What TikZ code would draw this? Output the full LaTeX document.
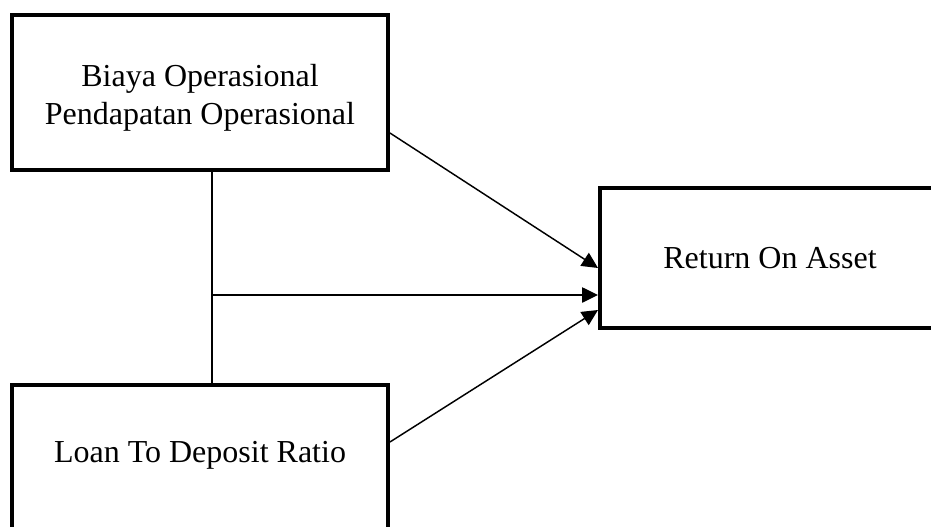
\documentclass[tikz,border=0pt]{standalone}
\usepackage{fontspec}
\setmainfont{Liberation Serif}
\usetikzlibrary{arrows.meta}
\tikzset{
  var/.style={draw,line width=3pt,rectangle,inner sep=0pt,align=center,
    font=\fontsize{24}{28.5}\selectfont},
  link/.style={line width=1.1pt,-{Triangle[length=12pt,width=11.5pt]}}
}
\begin{document}
\begin{tikzpicture}[x=0.75pt,y=0.75pt]
    \clip (0,0) rectangle (931,526);
    % Variables
    \node[var,minimum width=282pt,minimum height=116.25pt,text height=53.5pt,text depth=5pt] (bopo) at (200,433.5)
      {Biaya Operasional\\Pendapatan Operasional};
    \node[var,minimum width=282pt,minimum height=116.25pt,text height=14pt,text depth=14pt] (ldr) at (200,63.5)
      {Loan To Deposit Ratio};
    \node[var,minimum width=255pt,minimum height=105pt] (roa) at (770,268) {Return On Asset};
    % Hubungan
    \draw[line width=1.1pt] ([xshift=9pt]bopo.south) -- ([xshift=9pt]ldr.north);
    \coordinate (jn) at (212,231);
    \draw[link] ([yshift=-30.4pt]bopo.east) -- ([yshift=-7.5pt]roa.west);
    \draw[link] (jn) -- (jn -| roa.west);
    \draw[link] ([yshift=15.4pt]ldr.east) -- ([yshift=-39pt]roa.west);
\end{tikzpicture}
\end{document}
